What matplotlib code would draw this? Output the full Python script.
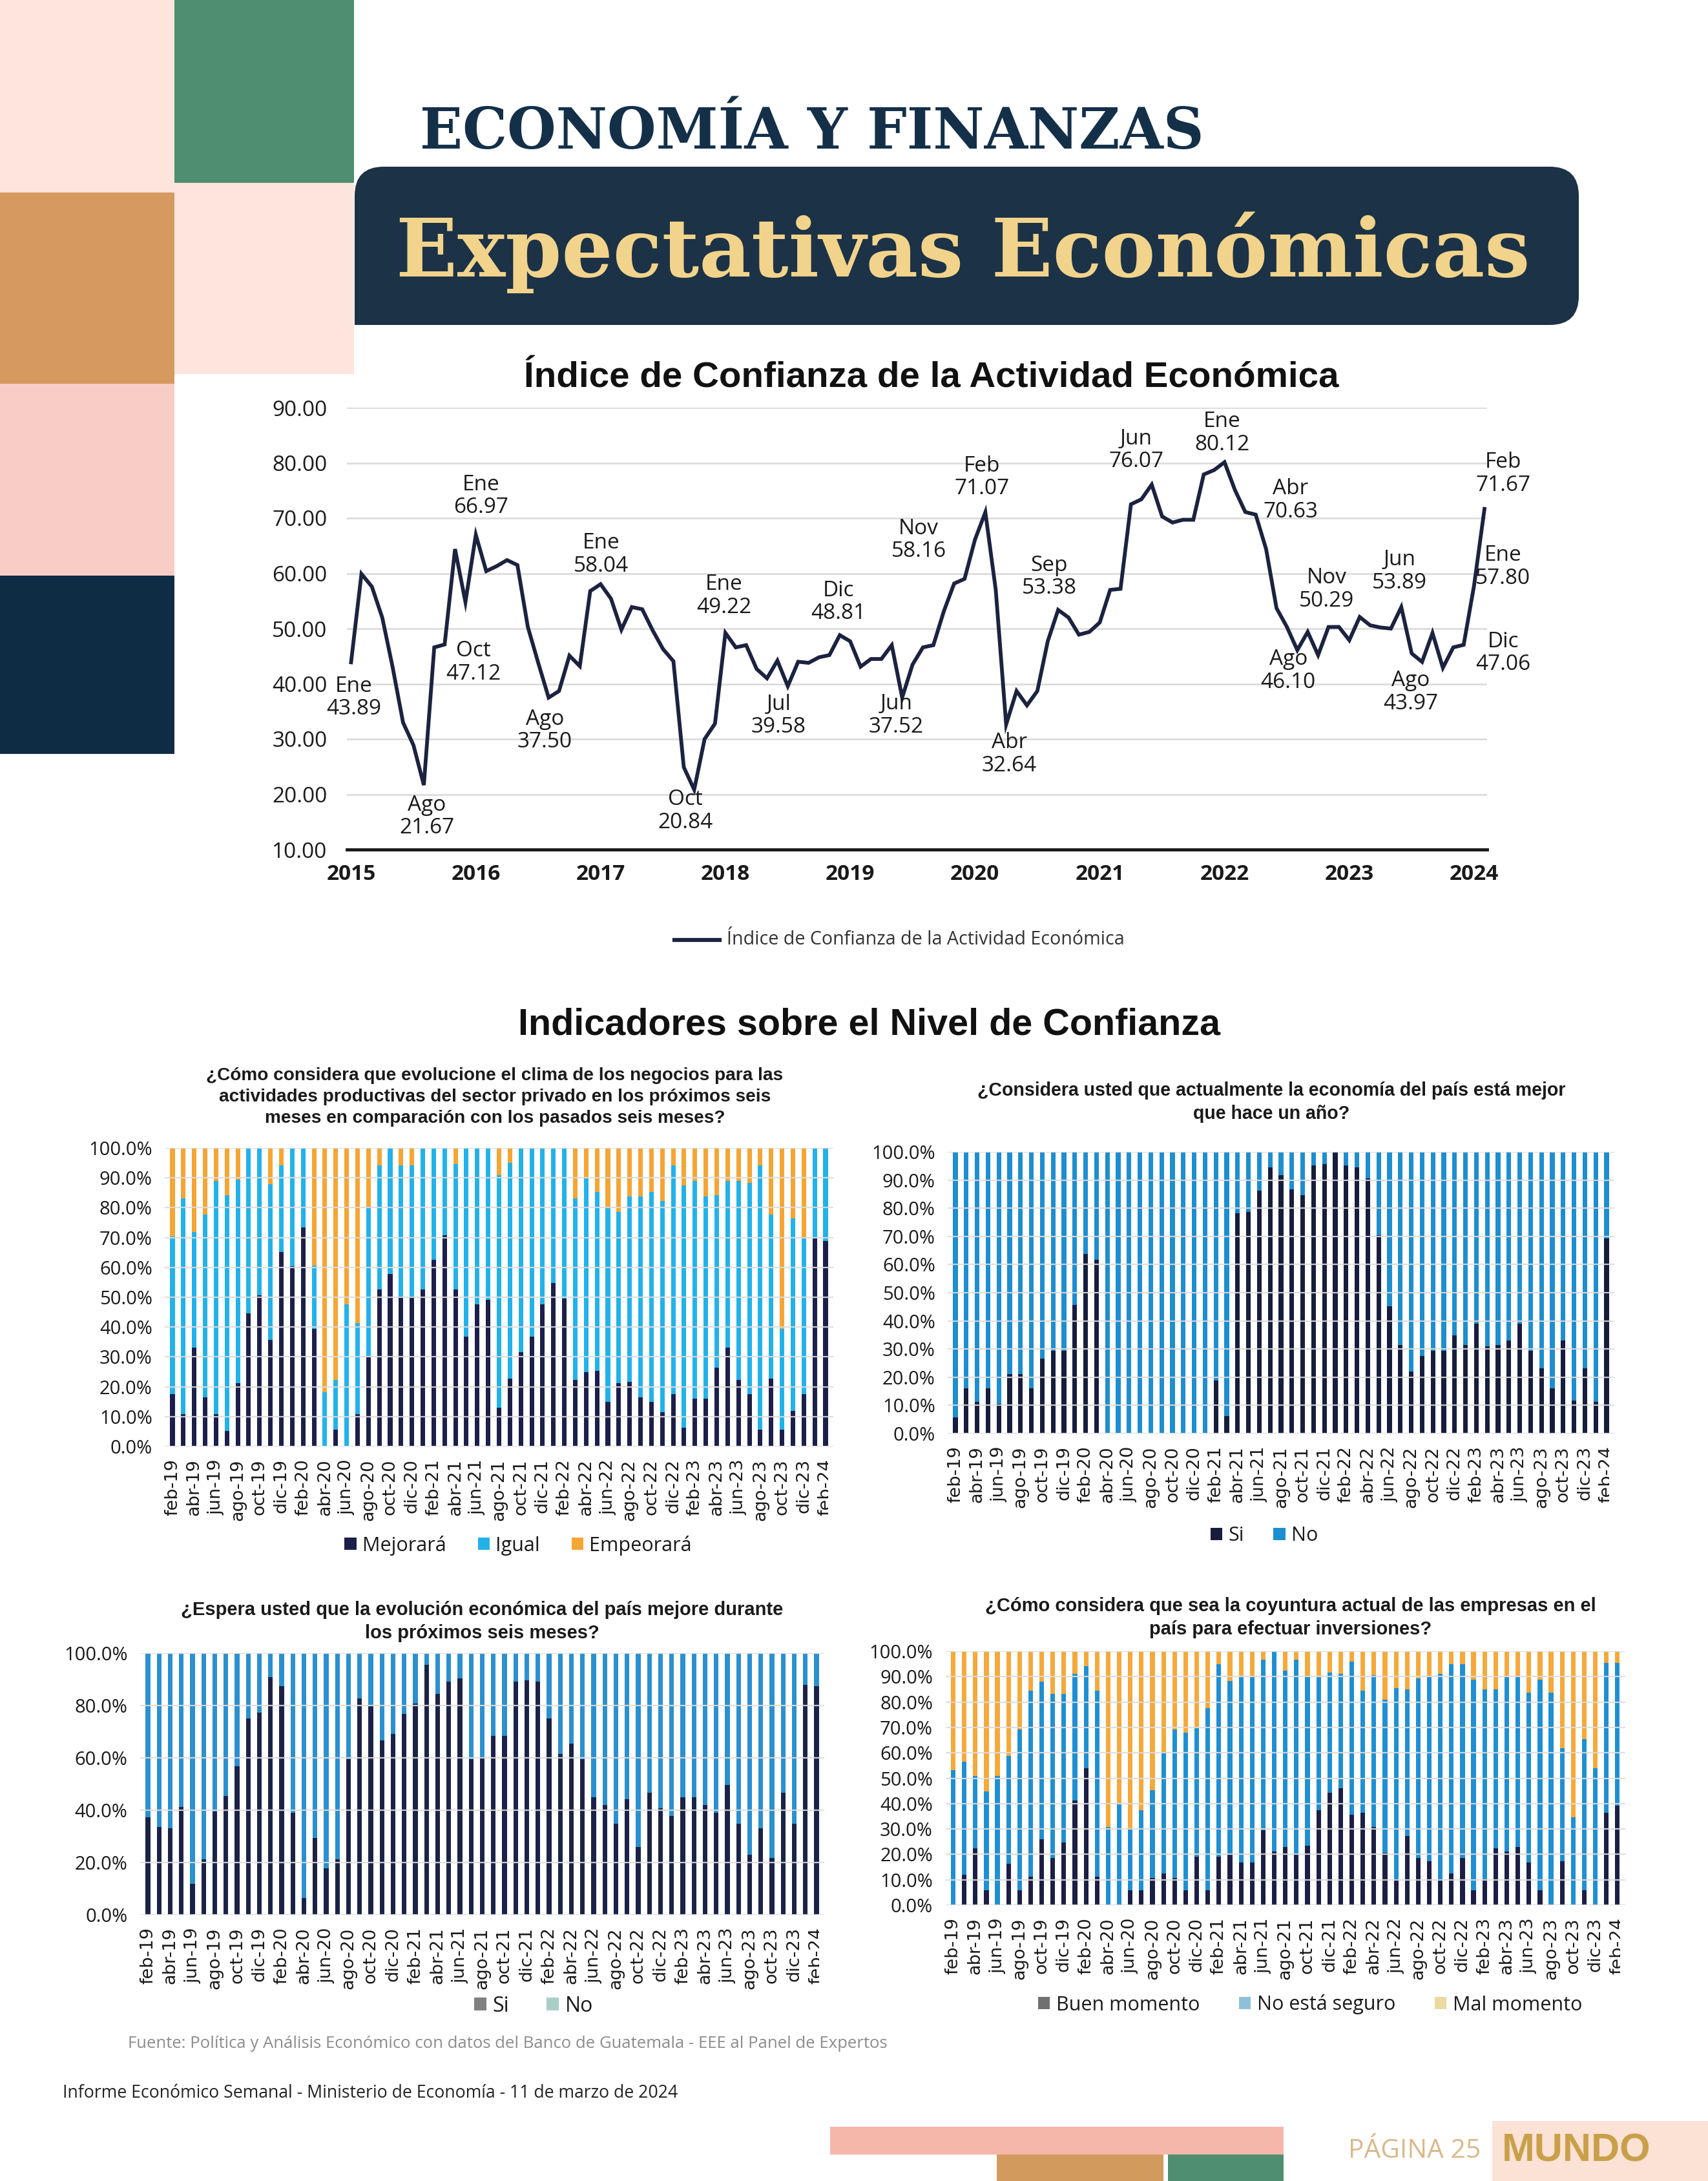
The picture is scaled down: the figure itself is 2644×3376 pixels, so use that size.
import matplotlib
matplotlib.use('Agg')
import matplotlib.pyplot as plt
from matplotlib.patches import Rectangle, FancyBboxPatch, Patch
from matplotlib.transforms import Bbox, TransformedBbox
import numpy as np

plt.rcParams['font.family'] = ['Open Sans', 'DejaVu Sans']

# ---------------- DATA ----------------
# Índice de Confianza de la Actividad Económica, ene-2015 .. feb-2024 (monthly)
icae = [43.89, 59.9, 57.6, 52.0, 43.0, 33.0, 28.9, 21.67, 46.6, 47.12, 64.4, 54.8,
        66.97, 60.4, 61.3, 62.4, 61.5, 50.3, 43.8, 37.50, 38.7, 45.1, 43.2, 56.8,
        58.04, 55.4, 49.8, 53.9, 53.5, 49.7, 46.3, 44.1, 24.9, 20.84, 30.0, 32.8,
        49.22, 46.6, 47.0, 42.7, 41.0, 44.2, 39.58, 44.0, 43.8, 44.8, 45.2, 48.81,
        47.7, 43.1, 44.5, 44.5, 47.0, 37.52, 43.5, 46.6, 47.0, 53.1, 58.16, 59.0,
        66.1, 71.07, 57.0, 32.64, 38.7, 36.1, 38.7, 47.7, 53.38, 52.0, 48.9, 49.4,
        51.1, 57.0, 57.2, 72.5, 73.4, 76.07, 70.3, 69.2, 69.7, 69.7, 77.9, 78.7,
        80.12, 75.1, 71.1, 70.63, 64.4, 53.7, 50.3, 46.10, 49.4, 45.2, 50.29, 50.3,
        47.9, 52.1, 50.6, 50.2, 50.0, 53.89, 45.5, 43.97, 49.2, 42.9, 46.6, 47.06,
        57.80, 71.67]
years = ['2015', '2016', '2017', '2018', '2019', '2020', '2021', '2022', '2023', '2024']
ann_idx = [0, 7, 9, 12, 19, 24, 33, 36, 42, 47, 53, 58, 61, 63, 68, 77, 84, 87, 91, 94,
           101, 103, 109, 108, 107]
ann_mes = ['Ene', 'Ago', 'Oct', 'Ene', 'Ago', 'Ene', 'Oct', 'Ene', 'Jul', 'Dic', 'Jun',
           'Nov', 'Feb', 'Abr', 'Sep', 'Jun', 'Ene', 'Abr', 'Ago', 'Nov', 'Jun', 'Ago',
           'Feb', 'Ene', 'Dic']

nombres = ['ene', 'feb', 'mar', 'abr', 'may', 'jun', 'jul', 'ago', 'sep', 'oct', 'nov', 'dic']
meses = [f'{nombres[(1 + k) % 12]}-{19 + (1 + k) // 12}' for k in range(61)]

# Chart 1: clima de negocios (%)
c1_mejorara = [17.6, 10.9, 33.1, 16.5, 10.9, 5.2, 21.2, 44.5, 50.7, 35.7, 65.1, 60.3, 73.4,
               39.3, 0.0, 5.7, 0.0, 10.9, 30.0, 52.7, 57.9, 50.2, 50.2, 52.7, 62.6, 70.8,
               52.7, 36.7, 47.6, 49.1, 12.9, 22.8, 31.5, 36.7, 47.6, 54.8, 49.6, 22.2,
               24.8, 25.3, 15.0, 21.2, 21.7, 16.5, 15.0, 11.4, 17.6, 6.2, 16.0, 16.0,
               26.4, 33.1, 22.2, 17.6, 5.7, 22.8, 5.7, 11.9, 17.6, 69.8, 68.8]
c1_igual = [52.7, 72.3, 38.8, 61.1, 78.0, 79.1, 68.3, 55.5, 49.3, 52.2, 29.0, 39.7, 26.6,
            21.2, 18.1, 16.5, 47.6, 30.5, 50.1, 41.4, 42.1, 43.9, 43.9, 47.3, 37.4, 29.2,
            41.9, 63.3, 52.4, 50.9, 78.1, 72.3, 68.5, 63.3, 52.4, 45.2, 50.4, 61.0, 65.2,
            60.0, 65.1, 57.4, 62.1, 67.3, 70.3, 70.8, 76.5, 81.2, 72.9, 67.8, 57.9, 55.8,
            66.7, 70.8, 88.4, 54.8, 33.6, 64.6, 52.2, 30.2, 31.2]
c1_empeorara = [29.7, 16.8, 28.1, 22.4, 11.1, 15.7, 10.5, 0.0, 0.0, 12.1, 5.9, 0.0, 0.0,
                39.5, 81.9, 77.8, 52.4, 58.6, 19.9, 5.9, 0.0, 5.9, 5.9, 0.0, 0.0, 0.0,
                5.4, 0.0, 0.0, 0.0, 9.0, 4.9, 0.0, 0.0, 0.0, 0.0, 0.0, 16.8, 10.0, 14.7,
                19.9, 21.4, 16.2, 16.2, 14.7, 17.8, 5.9, 12.6, 11.1, 16.2, 15.7, 11.1,
                11.1, 11.6, 5.9, 22.4, 60.7, 23.5, 30.2, 0.0, 0.0]

# Chart 2: economía mejor que hace un año (%)
c2_si = [5.7, 16.1, 11.2, 16.1, 10.6, 21.1, 21.1, 16.1, 26.5, 29.3, 29.3, 45.7, 63.8, 61.6,
         0, 0, 0, 0, 0, 0, 0, 0, 0, 0, 18.9, 6.2, 78.1, 78.6, 86.3, 94.5, 91.8, 86.8,
         84.6, 95.1, 95.6, 100, 95.1, 94.5, 90.7, 70.4, 45.2, 31.5, 22.1, 27.6, 29.3,
         29.3, 34.8, 31.5, 39.1, 30.9, 31.5, 33.1, 39.1, 29.3, 23.2, 16.1, 33.1, 11.7,
         23.2, 11.2, 69.3]
c2_no = [94.3, 83.9, 88.8, 83.9, 89.4, 78.9, 78.9, 83.9, 73.5, 70.7, 70.7, 54.3, 36.2, 38.4,
         100, 100, 100, 100, 100, 100, 100, 100, 100, 100, 81.1, 93.8, 21.9, 21.4, 13.7,
         5.5, 8.2, 13.2, 15.4, 4.9, 4.4, 0, 4.9, 5.5, 9.3, 29.6, 54.8, 68.5, 77.9, 72.4,
         70.7, 70.7, 65.2, 68.5, 60.9, 69.1, 68.5, 66.9, 60.9, 70.7, 76.8, 83.9, 66.9,
         88.3, 76.8, 88.8, 30.7]

# Chart 3: evolución económica próximos seis meses (%)
c3_si = [37.2, 33.6, 33.0, 41.3, 11.8, 21.3, 39.6, 45.5, 56.7, 75.0, 77.3, 90.9, 87.4, 39.0,
         6.5, 29.5, 17.7, 21.3, 59.6, 82.6, 79.7, 66.7, 69.1, 76.7, 80.8, 95.6, 84.4, 89.1,
         90.3, 59.6, 60.2, 68.5, 68.5, 89.1, 89.7, 89.1, 75.0, 61.4, 65.5, 59.6, 44.9,
         41.9, 34.8, 44.3, 25.9, 46.6, 40.7, 37.8, 44.9, 44.9, 41.9, 39.0, 49.6, 34.8,
         23.0, 33.0, 21.8, 46.6, 34.8, 88.0, 87.4]
c3_no = [62.8, 66.4, 67.0, 58.7, 88.2, 78.7, 60.4, 54.5, 43.3, 25.0, 22.7, 9.1, 12.6, 61.0,
         93.5, 70.5, 82.3, 78.7, 40.4, 17.4, 20.3, 33.3, 30.9, 23.3, 19.2, 4.4, 15.6, 10.9,
         9.7, 40.4, 39.8, 31.5, 31.5, 10.9, 10.3, 10.9, 25.0, 38.6, 34.5, 40.4, 55.1, 58.1,
         65.2, 55.7, 74.1, 53.4, 59.3, 62.2, 55.1, 55.1, 58.1, 61.0, 50.4, 65.2, 77.0,
         67.0, 78.2, 53.4, 65.2, 12.0, 12.6]

# Chart 4: coyuntura para efectuar inversiones (%)
c4_buen = [0.0, 11.9, 22.3, 5.8, 0.0, 16.2, 5.8, 11.3, 25.9, 18.6, 24.7, 41.2, 54.0, 11.3,
           0.0, 0.0, 5.8, 5.8, 10.7, 12.5, 10.7, 5.8, 19.2, 5.8, 19.2, 19.9, 16.8, 16.8,
           29.6, 21.1, 22.9, 19.9, 23.5, 37.5, 44.2, 46.0, 35.7, 36.3, 30.8, 20.5, 10.1,
           27.2, 18.6, 17.4, 10.1, 12.5, 18.6, 5.8, 10.1, 22.3, 21.1, 22.9, 16.8, 5.8,
           0.0, 17.4, 0.0, 5.8, 0.0, 36.3, 39.3]
c4_noseguro = [53.3, 44.5, 28.6, 39.0, 50.9, 42.6, 63.4, 73.1, 62.2, 64.6, 58.5, 49.9, 40.2,
               73.1, 30.8, 39.9, 24.4, 31.7, 34.7, 47.5, 58.5, 62.2, 50.6, 71.9, 75.6, 68.4,
               73.1, 73.1, 67.0, 78.9, 69.4, 76.7, 66.4, 52.4, 47.5, 45.1, 60.3, 48.1, 59.7,
               60.3, 75.5, 57.8, 70.7, 72.5, 81.0, 82.3, 76.2, 82.9, 74.9, 62.7, 68.8, 67.0,
               67.0, 82.9, 83.8, 44.5, 34.5, 59.7, 53.9, 59.1, 56.1]
c4_mal = [46.7, 43.6, 49.1, 55.2, 49.1, 41.2, 30.8, 15.6, 11.9, 16.8, 16.8, 8.9, 5.8, 15.6,
          69.2, 60.1, 69.8, 62.5, 54.6, 40.0, 30.8, 32.0, 30.2, 22.3, 5.2, 11.7, 10.1, 10.1,
          3.4, 0.0, 7.7, 3.4, 10.1, 10.1, 8.3, 8.9, 4.0, 15.6, 9.5, 19.2, 14.4, 15.0, 10.7,
          10.1, 8.9, 5.2, 5.2, 11.3, 15.0, 15.0, 10.1, 10.1, 16.2, 11.3, 16.2, 38.1, 65.5,
          34.5, 46.1, 4.6, 4.6]

# ---------------- LAYOUT ----------------
W, H = 2644, 3376
fig = plt.figure(figsize=(W / 100, H / 100), dpi=100)
fig.patch.set_facecolor('white')
renderer = fig.canvas.get_renderer()

bg = fig.add_axes([0, 0, 1, 1], zorder=0)
bg.set_xlim(0, W)
bg.set_ylim(H, 0)
bg.axis('off')


def rect_ax(x0, y0, x1, y1):
    return fig.add_axes([x0 / W, 1 - y1 / H, (x1 - x0) / W, (y1 - y0) / H], zorder=2)


def prect(x0, y0, x1, y1, color):
    bg.add_patch(Rectangle((x0, y0), x1 - x0, y1 - y0, color=color, lw=0))


def fit(t, width):
    bb = t.get_window_extent(renderer=renderer)
    t.set_fontsize(t.get_fontsize() * width / bb.width)
    return t


# decorative blocks top-left
prect(0, 0, 270, 298, '#fde4dc')
prect(270, 0, 548, 283, '#4f8e70')
prect(270, 283, 548, 579, '#fde4dc')
prect(0, 298, 270, 594, '#d6995f')
prect(0, 594, 270, 891, '#f7cdc5')
prect(0, 891, 270, 1167, '#0f2c45')

# banner
bg.add_patch(FancyBboxPatch((549, 258), 1895, 245, boxstyle='round,pad=0,rounding_size=45',
                            fc='#1c3246', ec='none'))
prect(549, 440, 620, 503, '#1c3246')

t = bg.text(650, 230, 'ECONOMÍA Y FINANZAS', family='DejaVu Serif', weight='bold',
            color='#143049', fontsize=60, ha='left', va='baseline')
fit(t, 1215)
t = bg.text(613, 428, 'Expectativas Económicas', family='DejaVu Serif', weight='bold',
            color='#f1d38c', fontsize=100, ha='left', va='baseline')
fit(t, 1757)

t = bg.text(1442, 600, 'Índice de Confianza de la Actividad Económica',
            family=['Liberation Sans', 'DejaVu Sans'], weight='bold', color='#111111',
            fontsize=36, ha='center', va='baseline')
fit(t, 1261)

# ---------------- LINE CHART ----------------
ax = rect_ax(537, 631, 2302, 1315)
xi = np.arange(len(icae))
ax.plot(xi, icae, color='#1c2340', lw=4.2, zorder=3, solid_joinstyle='miter')
ax.set_xlim(-0.4, 109.25)
ax.set_ylim(10, 90)
ax.set_yticks(np.arange(10, 91, 10))
ax.set_yticklabels([f'{v:.2f}' for v in np.arange(10, 91, 10)])
ax.set_xticks(np.arange(0, 12 * len(years), 12))
ax.set_xticklabels(years, fontweight='bold')
ax.tick_params(axis='y', length=0, pad=22, labelsize=24, labelcolor='#1a1a1a')
ax.tick_params(axis='x', length=0, pad=16, labelsize=24, labelcolor='#1a1a1a')
ax.grid(axis='y', color='#d9d9d9', lw=1.8)
ax.set_axisbelow(True)
for s in ['top', 'right', 'left']:
    ax.spines[s].set_visible(False)
ax.spines['bottom'].set_linewidth(3.5)
ax.spines['bottom'].set_color('#1a1a1a')
ax.patch.set_alpha(0)

offs = [(4, -55), (5, -49), (45, -28), (8, 60), (-6, -51), (1, 46), (-14, -33), (-2, 57),
        (-14, -46), (-2, 51), (-9, -28), (-55, 67), (-5, 54), (5, -46), (-14, 51), (-24, 53),
        (-4, 45), (54, 22), (-14, -32), (-3, 58), (-3, 55), (-18, -47), (29, 54), (45, 29),
        (61, -13)]
for i, m, o in zip(ann_idx, ann_mes, offs):
    ax.annotate(f'{m}\n{icae[i]:.2f}', xy=(i, icae[i]), xytext=o, textcoords='offset pixels',
                ha='center', va='center', fontsize=24, color='#1a1a1a', linespacing=1.1,
                zorder=5, annotation_clip=False)

bg.plot([1044, 1114], [1455, 1455], color='#1c2340', lw=4.5)
t = bg.text(1125, 1455, 'Índice de Confianza de la Actividad Económica', fontsize=18,
            color='#333333', ha='left', va='center')
fit(t, 615)

t = bg.text(1346, 1602, 'Indicadores sobre el Nivel de Confianza',
            family=['Liberation Sans', 'DejaVu Sans'], weight='bold', color='#111111',
            fontsize=36, ha='center', va='baseline')
fit(t, 1087)


# ---------------- BAR CHARTS ----------------
def bar_chart(b0, s, ytop, ybot, series, colors, ystep, title, tcx, tcy, tw,
              leg_labels, leg_colors, lcx, lcy, leg_fs, colsp):
    left = b0 - 0.7 * s
    right = b0 + 60.7 * s
    a = rect_ax(left, ytop, right, ybot)
    xs = np.arange(len(meses))
    bottom = np.zeros(len(meses))
    for vals, c in zip(series, colors):
        a.bar(xs, vals, bottom=bottom, width=0.42, color=c, lw=0, zorder=1)
        bottom = bottom + np.array(vals)
    a.set_xlim(-0.7, 60.7)
    a.set_ylim(0, 100)
    yt = np.arange(0, 100.1, ystep)
    a.set_yticks(yt)
    a.set_yticklabels([f'{v:.1f}%' for v in yt])
    a.set_xticks(xs[::2])
    a.set_xticklabels(meses[::2], rotation=90, family='DejaVu Sans')
    a.tick_params(axis='y', length=0, pad=14, labelsize=21, labelcolor='#1a1a1a')
    a.tick_params(axis='x', length=0, pad=14, labelsize=19.5, labelcolor='#1a1a1a')
    a.grid(axis='y', color='#dcdcdc', lw=1.6, alpha=0.9)
    a.set_axisbelow(False)
    for sp in a.spines.values():
        sp.set_visible(False)
    a.patch.set_alpha(0)
    lab = a.xaxis.get_major_ticks()[-1].label1
    lab.set_clip_box(TransformedBbox(Bbox.from_extents(0, 0, (right - 8) / W, 1),
                                     fig.transFigure))
    lab.set_clip_on(True)

    tt = bg.text(tcx, tcy, title, family=['Liberation Sans', 'DejaVu Sans'], weight='bold',
                 color='#1a1a1a', fontsize=18, ha='center', va='center', linespacing=1.35)
    fit(tt, tw)
    handles = [Patch(facecolor=c, edgecolor='none') for c in leg_colors]
    a.legend(handles, leg_labels, loc='center', bbox_to_anchor=(lcx / W, 1 - lcy / H),
             bbox_transform=fig.transFigure, ncol=len(leg_labels), frameon=False,
             fontsize=leg_fs, handlelength=0.6, handleheight=0.6, handletextpad=0.3,
             columnspacing=colsp, labelcolor='#1a1a1a')
    return a


bar_chart(267, 16.85, 1777, 2239, [c1_mejorara, c1_igual, c1_empeorara],
          ['#1c1f4a', '#22b2ea', '#f5a533'], 10,
          '¿Cómo considera que evolucione el clima de los negocios para las\n'
          'actividades productivas del sector privado en los próximos seis\n'
          'meses en comparación con los pasados seis meses?',
          766, 1698, 895, ['Mejorará', 'Igual', 'Empeorará'],
          ['#1c1f4a', '#22b2ea', '#f5a533'], 802, 2392, 22, 1.6)

bar_chart(1479, 16.8, 1783, 2219, [c2_si, c2_no], ['#161d3d', '#1d8ed0'], 10,
          '¿Considera usted que actualmente la economía del país está mejor\n'
          'que hace un año?', 1968, 1706, 912, ['Si', 'No'], ['#161d3d', '#1d8ed0'],
          1957, 2377, 22, 1.5)

bar_chart(229, 17.25, 2559, 2964, [c3_si, c3_no], ['#1a2347', '#2b90cf'], 20,
          '¿Espera usted que la evolución económica del país mejore durante\n'
          'los próximos seis meses?', 746, 2510, 935, ['Si', 'No'], ['#808080', '#a8cfc6'],
          826, 3105, 23, 1.8)

bar_chart(1475.5, 17.14, 2556, 2949, [c4_buen, c4_noseguro, c4_mal],
          ['#1b1f45', '#1f8fd3', '#f5a93a'], 10,
          '¿Cómo considera que sea la coyuntura actual de las empresas en el\n'
          'país para efectuar inversiones?', 1998, 2504, 945,
          ['Buen momento', 'No está seguro', 'Mal momento'],
          ['#707070', '#8fc0da', '#ead9a0'], 2028, 3103, 22, 2.0)

# ---------------- FOOTER ----------------
t = bg.text(198, 3163, 'Fuente: Política y Análisis Económico con datos del Banco de Guatemala - '
            'EEE al Panel de Expertos', fontsize=17, color='#8c8c8c', ha='left', va='center')
fit(t, 1176)
t = bg.text(97, 3240, 'Informe Económico Semanal - Ministerio de Economía - 11 de marzo de 2024',
            fontsize=17, color='#222222', ha='left', va='center')
fit(t, 952)

prect(1285, 3292, 1987, 3335, '#f5b7aa')
prect(1543, 3335, 1801, 3376, '#d39a5e')
prect(1808, 3335, 1987, 3376, '#4f8f70')
prect(2310, 3283, 2644, 3376, '#fbe2d5')
t = bg.text(2190, 3330, 'PÁGINA 25', fontsize=26, color='#d9b98b', ha='center', va='center')
fit(t, 205)
t = bg.text(2440, 3330, 'MUNDO', family=['Liberation Sans', 'DejaVu Sans'], weight='bold',
            fontsize=30, color='#c9a04a', ha='center', va='center')
fit(t, 230)

fig.savefig('out.png', dpi=100, facecolor='white')
